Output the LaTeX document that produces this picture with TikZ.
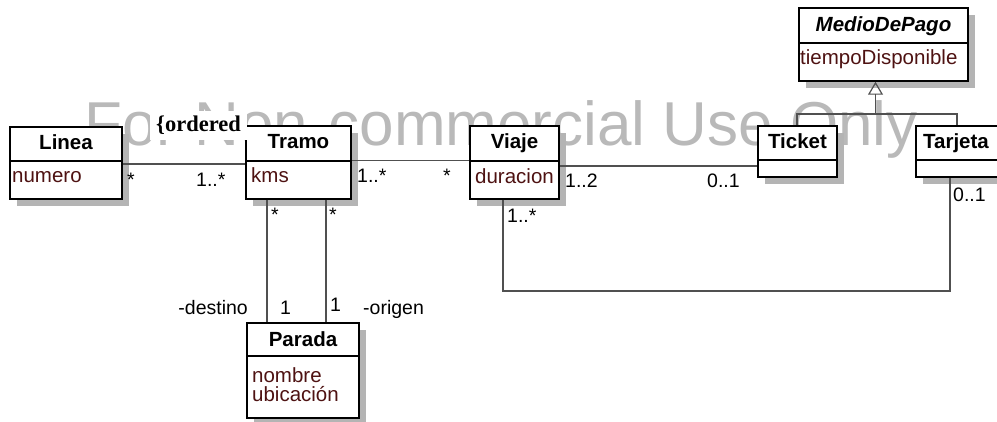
\documentclass[tikz,border=0pt]{standalone}
\usepackage{fontspec}
\setmainfont{Liberation Sans}
\newfontfamily\serifbold{Liberation Serif}
\usetikzlibrary{shadows,arrows.meta}
\definecolor{attrcol}{RGB}{78,18,18}
\definecolor{conn}{RGB}{80,80,80}
\definecolor{shade}{RGB}{180,180,180}
\definecolor{wmark}{RGB}{185,185,185}
\tikzset{
  cls/.style={draw=black, line width=1.5pt, fill=white, inner sep=0pt,
    drop shadow={shadow xshift=7pt, shadow yshift=-7pt, fill=shade, opacity=1}},
  sep/.style={draw=black, line width=1.5pt},
  cname/.style={anchor=base, inner sep=0pt, font=\fontsize{20.5}{24}\selectfont\bfseries},
  attr/.style={anchor=base west, inner sep=0pt, text=attrcol, font=\fontsize{20.5}{24}\selectfont},
  mult/.style={anchor=base west, inner sep=0pt, font=\fontsize{19.5}{23}\selectfont},
  assoc/.style={draw=conn, line width=1.3pt},
}
\begin{document}
\begin{tikzpicture}[x=1pt,y=-1pt]
\useasboundingbox (0,0) rectangle (997,422);
\clip (0,0) rectangle (997,422);
% watermark
\node[anchor=base, inner sep=0pt, text=wmark, font=\fontsize{62}{70}\selectfont] (wm) at (501,146) {For Non-commercial Use Only};

\coordinate (bendA) at (503,291);
\coordinate (genj) at (875.5,114);

% classes
\node[cls, minimum width=112pt, minimum height=72pt] (linea) at (66,163) {};
\node[cls, minimum width=105pt, minimum height=73pt] (tramo) at (298.5,162.5) {};
\node[cls, minimum width=89pt, minimum height=73pt] (viaje) at (514.5,162.5) {};
\node[cls, minimum width=79pt, minimum height=51pt] (ticket) at (797.5,151.5) {};
\node[cls, minimum width=84pt, minimum height=51pt] (tarjeta) at (958,151.5) {};
\node[cls, minimum width=169pt, minimum height=73pt] (medio) at (883.5,44.5) {};
\node[cls, minimum width=112pt, minimum height=95pt] (parada) at (303,370.5) {};

% compartments
\draw[sep] (linea.west |- 0,161) -- (linea.east |- 0,161);
\draw[sep] (tramo.west |- 0,161) -- (tramo.east |- 0,161);
\draw[sep] (viaje.west |- 0,161) -- (viaje.east |- 0,161);
\draw[sep] (ticket.west |- 0,160) -- (ticket.east |- 0,160);
\draw[sep] (tarjeta.west |- 0,160) -- (tarjeta.east |- 0,160);
\draw[sep] (medio.west |- 0,43) -- (medio.east |- 0,43);
\draw[sep] (parada.west |- 0,356) -- (parada.east |- 0,356);

% class names
\node[cname] (nlinea) at (66,150) {Linea};
\node[cname] (ntramo) at (298.5,149) {Tramo};
\node[cname] (nviaje) at (514.5,149) {Viaje};
\node[cname] (nticket) at (797.5,149) {Ticket};
\node[cname] (ntarjeta) at (956,149) {Tarjeta};
\node[cname, font=\fontsize{20.5}{24}\selectfont\bfseries\itshape] (nmedio) at (883.5,32) {MedioDePago};
\node[cname] (nparada) at (303,347) {Parada};

% attributes
\node[attr] (anum) at (12,183) {numero};
\node[attr] (akms) at (251,183) {kms};
\node[attr] (adur) at (475,184) {duracion};
\node[attr] (atiempo) at (800,65) {tiempoDisponible};
\node[attr] (anom) at (252,382) {nombre};
\node[attr] (aubi) at (252,402) {ubicación};

% associations
\draw[assoc] (linea.east |- 0,164) -- (tramo.west |- 0,164);
\draw[assoc] (tramo.east |- 0,160.5) -- (viaje.west |- 0,160.5);
\draw[assoc] (viaje.east |- 0,166) -- (ticket.west |- 0,166);
\draw[assoc] (tramo.south -| 267,0) -- (parada.north -| 267,0);
\draw[assoc] (tramo.south -| 326,0) -- (parada.north -| 326,0);
\draw[assoc] (viaje.south -| 503,0) -- (bendA) -| (tarjeta.south -| 950,0);

% generalization
\draw[assoc, -{Triangle[open, length=13pt, width=15pt, line width=1.2pt]}] (ticket.north -| 797,0) |- (genj) -- (medio.south -| 875.5,0);
\draw[assoc] (tarjeta.north -| 957,0) |- (genj);

% constraint
\node[anchor=base west, fill=white, inner xsep=6pt, inner ysep=5pt, font=\fontsize{22.5}{26}\selectfont\serifbold\bfseries] (ord) at (150,132) {\{ordered};

% multiplicities
\node[mult] (m1) at (127,187) {*};
\node[mult] (m2) at (196,187) {1..*};
\node[mult] (m3) at (357,183) {1..*};
\node[mult] (m4) at (443,183) {*};
\node[mult] (m5) at (565,188) {1..2};
\node[mult] (m6) at (707,188) {0..1};
\node[mult] (m7) at (953,202) {0..1};
\node[mult] (m8) at (507,223) {1..*};
\node[mult] (m9) at (271,222) {*};
\node[mult] (m10) at (329,222) {*};
\node[mult, anchor=base east] (rdest) at (248,315) {-destino};
\node[mult] (m11) at (280,315) {1};
\node[mult] (m12) at (330,312) {1};
\node[mult] (rorig) at (363,315) {-origen};
\end{tikzpicture}
\end{document}
